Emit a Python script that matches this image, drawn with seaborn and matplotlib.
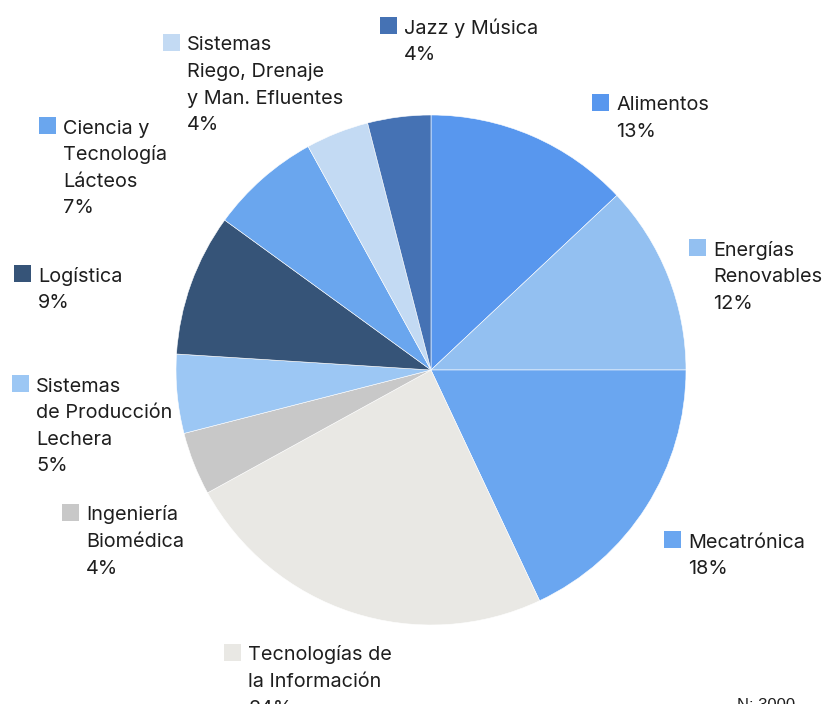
import matplotlib
matplotlib.use("Agg")
import matplotlib.pyplot as plt
from matplotlib.patches import Rectangle
import seaborn as sns

sns.set_theme(style="white")
plt.rcParams['font.family'] = ['Inter', 'DejaVu Sans']

# ---- data ----
categories = ["Alimentos", "Energías Renovables", "Mecatrónica", "Tecnologías de la Información",
              "Ingeniería Biomédica", "Sistemas de Producción Lechera", "Logística",
              "Ciencia y Tecnología Lácteos", "Sistemas Riego, Drenaje y Man. Efluentes", "Jazz y Música"]
values = [13, 12, 18, 24, 4, 5, 9, 7, 4, 4]
label_lines = [
    ["Alimentos"],
    ["Energías", "Renovables"],
    ["Mecatrónica"],
    ["Tecnologías de", "la Información"],
    ["Ingeniería", "Biomédica"],
    ["Sistemas", "de Producción", "Lechera"],
    ["Logística"],
    ["Ciencia y", "Tecnología", "Lácteos"],
    ["Sistemas", "Riego, Drenaje", "y Man. Efluentes"],
    ["Jazz y Música"],
]
colors = ["#5897EE", "#93C0F1", "#6AA6F0", "#E9E8E4", "#C8C8C8",
          "#9CC7F4", "#365478", "#6AA6EE", "#C3DAF3", "#4572B4"]
note = "N: 3000"

# ---- layout (pixel coordinates, y from top) ----
W, H = 830, 704
legend_pos = [(592, 94), (689, 239), (664, 531), (224, 644), (62, 504),
              (12, 375), (14, 265), (39, 117), (163, 34), (380, 17)]

fig = plt.figure(figsize=(W / 100, H / 100), dpi=100)
ax = fig.add_axes([0, 0, 1, 1])
ax.set_xlim(0, W)
ax.set_ylim(0, H)
ax.set_aspect('equal')
ax.axis('off')

ax.pie(values, colors=colors, startangle=90, counterclock=False,
       center=(431, H - 370), radius=255,
       wedgeprops=dict(edgecolor='white', linewidth=0.4))
ax.set_xlim(0, W)
ax.set_ylim(0, H)

txt_color = "#1e1e1e"
sq = 16.5
lh = 26.6
for (sx, sy), lines, val, col in zip(legend_pos, label_lines, values, colors):
    ax.add_patch(Rectangle((sx, H - sy - sq), sq, sq, facecolor=col, edgecolor='none'))
    base = sy + 16.5
    for i, line in enumerate(lines + [f"{val}%"]):
        ax.text(sx + 24, H - (base + i * lh), line, fontsize=14.3, color=txt_color,
                ha='left', va='baseline')

ax.text(737, H - 710, note, fontsize=12, color=txt_color, ha='left', va='baseline',
        family=['Liberation Sans', 'DejaVu Sans'])

fig.savefig("out.png", dpi=100)
